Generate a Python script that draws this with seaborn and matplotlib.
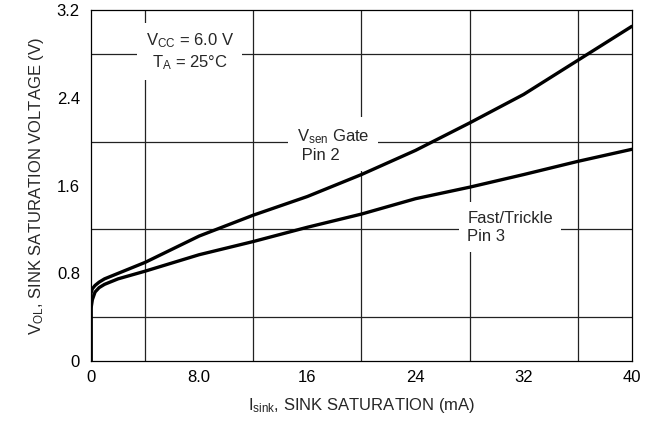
import numpy as np
import pandas as pd
import matplotlib
matplotlib.use("Agg")
import matplotlib.pyplot as plt
import seaborn as sns

# Curve data (I_sink in mA, V_OL in volts)
gate_isink = [0, 0, 0.1, 0.3, 0.6, 1, 2, 4, 8, 12, 16, 20, 24, 28, 32, 36, 40]
gate_vol = [0, 0.62, 0.66, 0.69, 0.72, 0.75, 0.80, 0.90, 1.14, 1.33, 1.50, 1.70, 1.92, 2.17, 2.43, 2.74, 3.05]

trickle_isink = [0, 0, 0.1, 0.3, 0.6, 1, 2, 4, 8, 12, 16, 20, 24, 28, 32, 36, 40]
trickle_vol = [0, 0.48, 0.56, 0.63, 0.67, 0.70, 0.75, 0.82, 0.97, 1.09, 1.22, 1.34, 1.48, 1.585, 1.70, 1.82, 1.93]

x_ticks = [0, 8, 16, 24, 32, 40]
x_tick_labels = ["0", "8.0", "16", "24", "32", "40"]
y_ticks = [0, 0.8, 1.6, 2.4, 3.2]
y_tick_labels = ["0", "0.8", "1.6", "2.4", "3.2"]

sns.set_style("white")
plt.rcParams["font.family"] = ["Liberation Sans", "DejaVu Sans"]
plt.rcParams["mathtext.fontset"] = "custom"
plt.rcParams["mathtext.rm"] = "Liberation Sans"
plt.rcParams["mathtext.it"] = "Liberation Sans"

fig = plt.figure(figsize=(6.5, 4.3), dpi=100)
ax = fig.add_axes([0.14, 0.16, 0.832, 0.817])

# grid every 4 mA / 0.4 V
ax.set_xticks(np.arange(0, 41, 4), minor=True)
ax.set_yticks(np.arange(0, 3.21, 0.4), minor=True)
ax.grid(which="minor", color="#222222", linewidth=0.9, zorder=0)
ax.set_axisbelow(True)

sns.lineplot(x=gate_isink, y=gate_vol, sort=False, estimator=None,
             color="black", linewidth=2.4, ax=ax, zorder=3)
sns.lineplot(x=trickle_isink, y=trickle_vol, sort=False, estimator=None,
             color="black", linewidth=2.4, ax=ax, zorder=3)

ax.set_xlim(0, 40)
ax.set_ylim(0, 3.2)
ax.set_xticks(x_ticks)
ax.set_xticklabels(x_tick_labels)
ax.set_yticks(y_ticks)
ax.set_yticklabels(y_tick_labels)
ax.tick_params(which="both", length=0, labelsize=12, colors="black")
ax.tick_params(axis="x", pad=6)
ax.tick_params(axis="y", pad=8)

for s in ax.spines.values():
    s.set_color("black")
    s.set_linewidth(0.9)

ax.set_xlabel(r"I$_{\mathrm{sink}}$, SINK SATURATION (mA)", fontsize=12, labelpad=8)
ax.set_ylabel(r"V$_{\mathrm{OL}}$, SINK SATURATION VOLTAGE (V)", fontsize=12, labelpad=8)

box = dict(boxstyle="square,pad=0.5", fc="white", ec="none")
ax.text(7.3, 2.82, "V$_{\\mathrm{CC}}$ = 6.0 V\nT$_{\\mathrm{A}}$ = 25°C", fontsize=12,
        ha="center", va="center", multialignment="center", bbox=box, zorder=2,
        linespacing=1.25)
ax.text(17.9, 1.97, "V$_{\\mathrm{sen}}$ Gate\n Pin 2", fontsize=12,
        ha="center", va="center", multialignment="left", bbox=box, zorder=2,
        linespacing=1.2)
ax.text(31.0, 1.22, "Fast/Trickle\nPin 3", fontsize=12,
        ha="center", va="center", multialignment="left", bbox=box, zorder=2,
        linespacing=1.25)

fig.savefig("out.png", dpi=100)
